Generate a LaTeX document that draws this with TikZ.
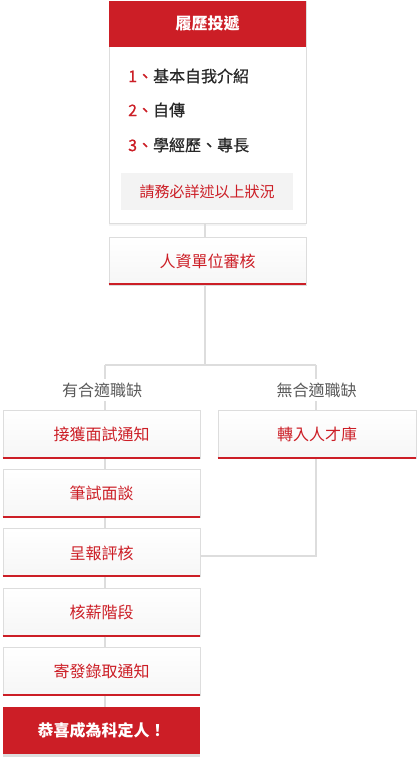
\documentclass[tikz,border=0pt]{standalone}
\usepackage{fontspec}
\setmainfont{Noto Sans CJK TC}
\newfontfamily\itemfont[FakeBold=0.6]{Noto Sans CJK TC}
\definecolor{kred}{RGB}{204,30,38}
\definecolor{kline}{RGB}{221,221,221}
\definecolor{kgray}{RGB}{90,90,90}
\definecolor{kdark}{RGB}{40,40,40}
\definecolor{kpanel}{RGB}{243,243,243}
\definecolor{kshade}{RGB}{246,246,246}
\begin{document}
\begin{tikzpicture}[x=1pt,y=-1pt,
  stepbox/.style={rectangle, draw=kline, line width=0.9pt, top color=white, bottom color=kshade,
    minimum width=197pt, minimum height=48pt, inner sep=0pt,
    font=\fontsize{16}{16}\selectfont, text=kred},
  finalbox/.style={rectangle, fill=kred, minimum width=197pt, minimum height=47pt, inner sep=0pt,
    font=\bfseries\fontsize{16}{16}\selectfont, text=white},
  branchlabel/.style={inner sep=0pt, minimum height=22pt, font=\fontsize{16}{16}\selectfont, text=kgray},
  item/.style={anchor=west, inner sep=0pt, font=\itemfont\fontsize{16}{16}\selectfont, text=kdark},
  conn/.style={draw=kline, line width=1.2pt},
  redline/.style={draw=kred, line width=2pt}]
\useasboundingbox (0,0) rectangle (420,760);

% top resume box
\fill[kpanel] (109,222) rectangle (306,226);
\node[rectangle, draw=kline, line width=0.9pt, fill=white, minimum width=197pt, minimum height=222pt, inner sep=0pt] (resume) at (207.5,112) {};
\node[rectangle, fill=kred, minimum width=197pt, minimum height=46pt, inner sep=0pt,
  font=\bfseries\fontsize{16}{16}\selectfont, text=white, anchor=north] (head) at (resume.north) {履歷投遞};
\node[item] (i1) at (128,76) {\textcolor{kred}{1}\textcolor{kred}{、}基本自我介紹};
\node[item] (i2) at (128,110) {\textcolor{kred}{2}\textcolor{kred}{、}自傳};
\node[item] (i3) at (128,145) {\textcolor{kred}{3}\textcolor{kred}{、}學經歷、專長};
\node[rectangle, fill=kpanel, minimum width=172pt, minimum height=37pt, inner sep=0pt,
  font=\fontsize{15}{15}\selectfont, text=kred] (note) at (207,191.5) {請務必詳述以上狀況};

% HR review
\node[stepbox] (hr) at (207.5,261) {人資單位審核};

% branch labels
\node[branchlabel] (yes) at (102,390) {有合適職缺};
\node[branchlabel] (no) at (316.5,390) {無合適職缺};

% left column
\node[stepbox] (s1) at (101.5,434.5) {接獲面試通知};
\node[stepbox] (s2) at (101.5,493.7) {筆試面談};
\node[stepbox] (s3) at (101.5,552.9) {呈報評核};
\node[stepbox] (s4) at (101.5,612.1) {核薪階段};
\node[stepbox] (s5) at (101.5,671.3) {寄發錄取通知};
\fill[kline] (3,753) rectangle (200,756.5);
\node[finalbox] (s6) at (101.5,730.5) {恭喜成為科定人！};

% right column
\node[stepbox, minimum width=198pt] (talent) at (317,434.5) {轉入人才庫};

\foreach \n in {hr,s1,s2,s3,s4,s5,talent}
  \draw[redline] ([yshift=1pt]\n.south west) -- ([yshift=1pt]\n.south east);

% connectors
\coordinate (mid) at (205,365);
\coordinate (lft) at (105,365);
\coordinate (rgt) at (316,365);
\draw[conn] (resume.south -| mid) -- (hr.north -| mid);
\draw[conn] (hr.south -| mid) -- (mid);
\draw[conn] (lft) -- (rgt);
\draw[conn] (lft) -- (lft |- yes.north);
\draw[conn] (lft |- yes.south) -- (lft |- s1.north);
\draw[conn] (rgt) -- (rgt |- no.north);
\draw[conn] (rgt |- no.south) -- (rgt |- talent.north);
\draw[conn] (lft |- s1.south) -- (lft |- s2.north);
\draw[conn] (lft |- s2.south) -- (lft |- s3.north);
\draw[conn] (lft |- s3.south) -- (lft |- s4.north);
\draw[conn] (lft |- s4.south) -- (lft |- s5.north);
\draw[conn] (lft |- s5.south) -- (lft |- s6.north);
\draw[conn] (rgt |- talent.south) |- ([yshift=-3pt]s3.east);
\end{tikzpicture}
\end{document}
